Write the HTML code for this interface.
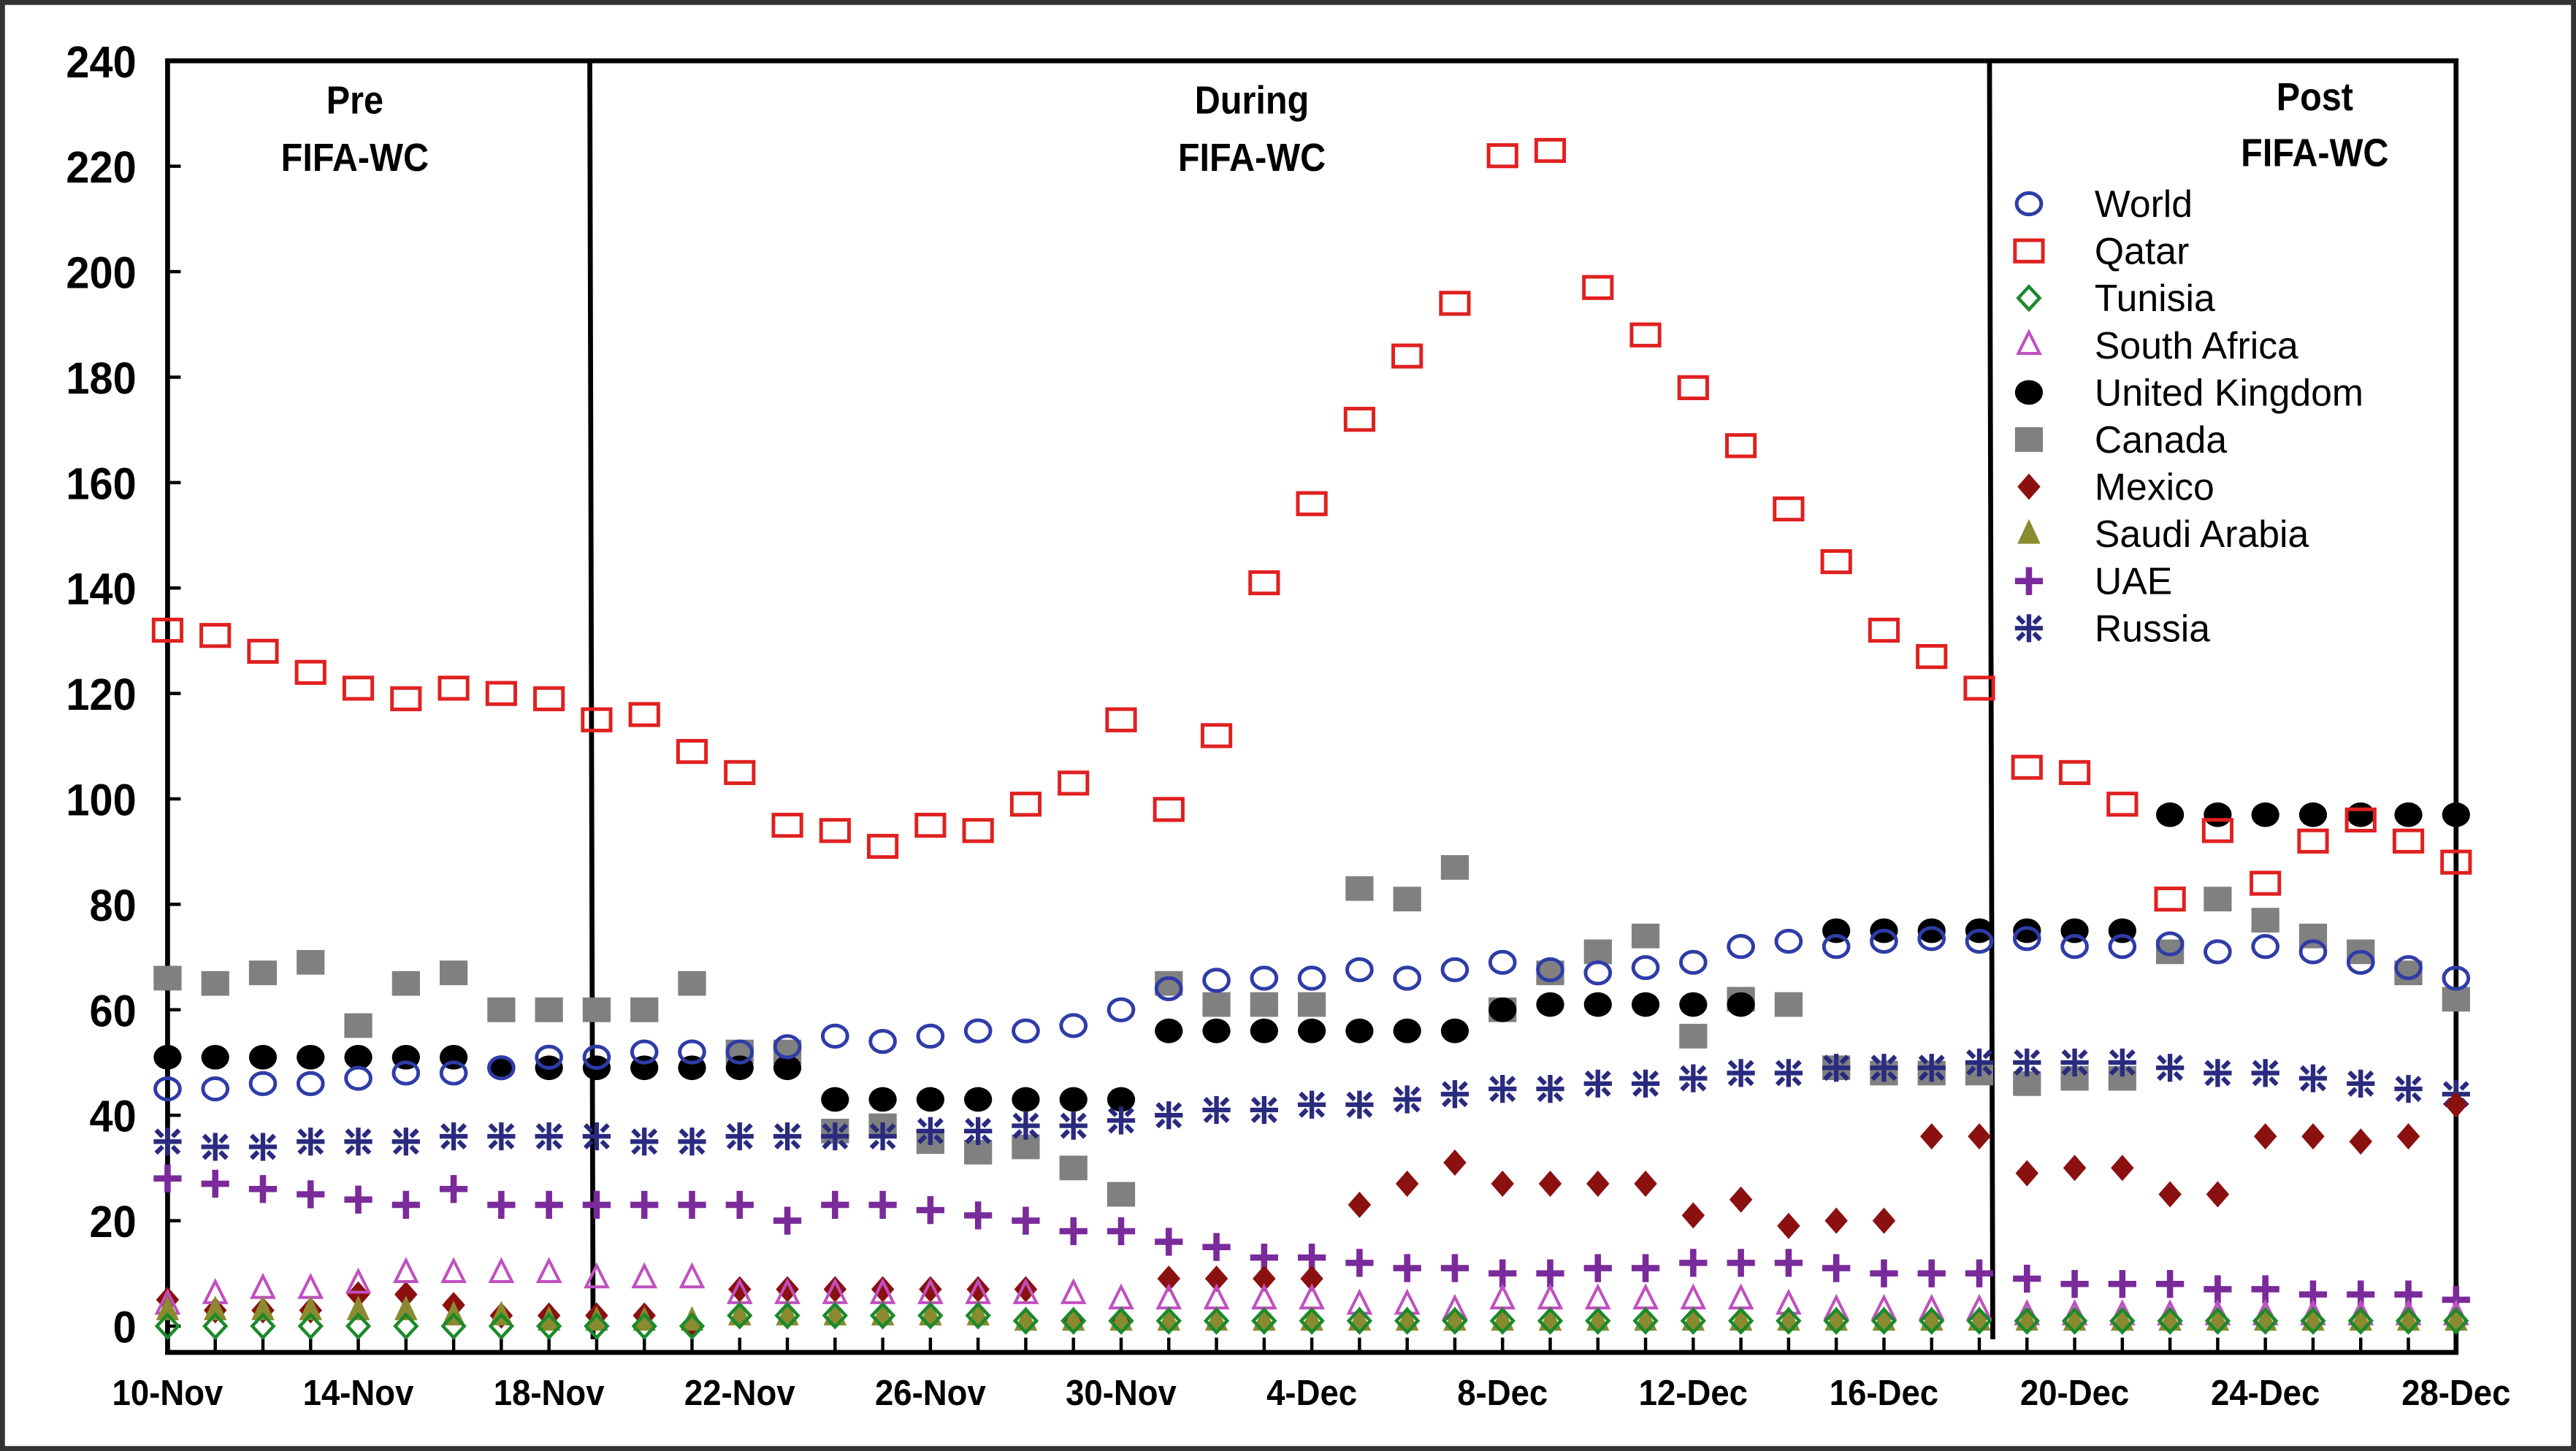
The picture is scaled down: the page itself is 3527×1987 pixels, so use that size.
<!DOCTYPE html>
<html><head><meta charset="utf-8"><style>
html,body{margin:0;padding:0;background:#fff;}
svg{display:block;}
text{font-family:"Liberation Sans",sans-serif;}
</style></head><body>
<svg id="chart" width="3527" height="1987" viewBox="0 0 1568 883" preserveAspectRatio="none" xmlns="http://www.w3.org/2000/svg">
<rect x="1.5" y="1.5" width="1565" height="880" fill="#fff" stroke="#333" stroke-width="3"/>
<g id="marks"></g>
</svg>
<script>
const dayLabels=["10-Nov","14-Nov","18-Nov","22-Nov","26-Nov","30-Nov","4-Dec","8-Dec","12-Dec","16-Dec","20-Dec","24-Dec","28-Dec"];
const yTicks=[0,20,40,60,80,100,120,140,160,180,200,220,240];
const world=[45,45,46,46,47,48,48,49,51,51,52,52,52,53,55,54,55,56,56,57,60,64,65.6,66,66,67.6,66,67.6,69,67.6,67,68,69,72,73,72,73,73.5,73,73.5,72,72,72.5,71,72,71,69,68,66];
const qatar=[132,131,128,124,121,119,121,120,119,115,116,109,105,95,94,91,95,94,99,103,115,98,112,141,156,172,184,194,222,223,197,188,178,167,155,145,132,127,121,106,105,99,81,94,84,92,96,92,88];
const tunisia=[0,0,0,0,0,0,0,0,0,0,0,0,2,2,2,2,2,2,1,1,1,1,1,1,1,1,1,1,1,1,1,1,1,1,1,1,1,1,1,1,1,1,1,1,1,1,1,1,1];
const southAfrica=[4,6,7,7,8,10,10,10,10,9,9,9,6,6,6,6,6,6,6,6,5,5,5,5,5,4,4,3,5,5,5,5,5,5,4,3,3,3,3,2,2,2,2,2,2,2,2,2,2];
const uk=[51,51,51,51,51,51,51,49,49,49,49,49,49,49,43,43,43,43,43,43,43,56,56,56,56,56,56,56,60,61,61,61,61,61,null,75,75,75,75,75,75,75,97,97,97,97,97,97,97];
const canada=[66,65,67,69,57,65,67,60,60,60,60,65,52,52,37,38,35,33,34,30,25,65,61,61,61,83,81,87,60,67,71,74,55,62,61,49,48,48,48,46,47,47,71,81,77,74,71,67,62];
const mexico=[5,3,3,3,6,6,4,2,2,2,2,0,7,7,7,7,7,7,7,1,1,9,9,9,9,23,27,31,27,27,27,27,21,24,19,20,20,36,36,29,30,30,25,25,36,36,35,36,42];
const saudi=[3,3,3,3,3,3,2,2,1,1,1,1,2,2,2,2,2,2,1,1,1,1,1,1,1,1,1,1,1,1,1,1,1,1,1,1,1,1,1,1,1,1,1,1,1,1,1,1,1];
const uae=[28,27,26,25,24,23,26,23,23,23,23,23,23,20,23,23,22,21,20,18,18,16,15,13,13,12,11,11,10,10,11,11,12,12,12,11,10,10,10,9,8,8,8,7,7,6,6,6,5];
const russia=[35,34,34,35,35,35,36,36,36,36,35,35,36,36,36,36,37,37,38,38,39,40,41,41,42,42,43,44,45,45,46,46,47,48,48,49,49,49,50,50,50,50,49,48,48,47,46,45,44];
const seriesNames=["World","Qatar","Tunisia","South Africa","United Kingdom","Canada","Mexico","Saudi Arabia","UAE","Russia"];

const NS="http://www.w3.org/2000/svg";
const L=102,R=1495,T=37,Y0=807;
const xs=i=>L+(R-L)*i/48;
const ys=v=>Y0-(Y0-T)*v/240;
const svg=document.getElementById('chart');
const g=document.getElementById('marks');
function el(tag,attrs,parent){const e=document.createElementNS(NS,tag);for(const k in attrs)e.setAttribute(k,attrs[k]);(parent||g).appendChild(e);return e;}

let ax=el('path',{d:`M${L},${T} H${R} V823 H${L} Z`,fill:'none',stroke:'#000','stroke-width':3});


yTicks.forEach(v=>{
  let t=el('line',{x1:L,x2:L+8,y1:ys(v),y2:ys(v),stroke:'#000','stroke-width':2});
  
  
  let tx=el('text',{x:83,y:ys(v)+10,'text-anchor':'end','font-size':27,'font-weight':'bold',transform:`translate(83,0) scale(0.95,1) translate(-83,0)`});
  tx.textContent=v;
  
  
});
for(let i=0;i<49;i++){
  let t=el('line',{x1:xs(i),x2:xs(i),y1:823,y2:814,stroke:'#000','stroke-width':2});
  
  
}
dayLabels.forEach((d,k)=>{
  const x=xs(k*4);
  let tx=el('text',{x:x,y:855,'text-anchor':'middle','font-size':22,'font-weight':'bold',transform:`translate(${x},0) scale(0.92,1) translate(${-x},0)`});
  tx.textContent=d;
  
  
});
[[359,'pre-during-divider'],[1211,'during-post-divider']].forEach(([x,n])=>{
  let l=el('line',{x1:x,x2:x+2,y1:T,y2:815,stroke:'#000','stroke-width':3});
  
  
});
[['Pre',216,69],['FIFA-WC',216,104],['During',762,69],['FIFA-WC',762,104],['Post',1409,67],['FIFA-WC',1409,101]].forEach(([s,x,y])=>{
  let tx=el('text',{x:x,y:y,'text-anchor':'middle','font-size':24,'font-weight':'bold',transform:`translate(${x},0) scale(0.9,1) translate(${-x},0)`});
  tx.textContent=s;
  
  
});

function marker(type,x,y,parent){
  const p=parent||g;
  switch(type){
    case 'World': return el('ellipse',{cx:x,cy:y,rx:7.5,ry:6.5,fill:'none',stroke:'#2e3ca8','stroke-width':2.2},p);
    case 'Qatar': return el('rect',{x:x-8.5,y:y-6.5,width:17,height:13,fill:'none',stroke:'#e02020','stroke-width':2.2},p);
    case 'Tunisia': return el('path',{d:`M${x},${y-7}L${x+6.5},${y}L${x},${y+7}L${x-6.5},${y}Z`,fill:'none',stroke:'#1a8a2a','stroke-width':2},p);
    case 'South Africa': return el('path',{d:`M${x},${y-8}L${x+6.5},${y+5}L${x-6.5},${y+5}Z`,fill:'none',stroke:'#c050c0','stroke-width':1.8},p);
    case 'United Kingdom': return el('ellipse',{cx:x,cy:y,rx:8.5,ry:7.5,fill:'#000'},p);
    case 'Canada': return el('rect',{x:x-8.5,y:y-7.5,width:17,height:15,fill:'#808080'},p);
    case 'Mexico': return el('path',{d:`M${x},${y-8}L${x+7},${y}L${x},${y+8}L${x-7},${y}Z`,fill:'#8b1010'},p);
    case 'Saudi Arabia': return el('path',{d:`M${x},${y-9}L${x+7},${y+6}L${x-7},${y+6}Z`,fill:'#8a8a30'},p);
    case 'UAE': return el('path',{d:`M${x-8.5},${y}H${x+8.5}M${x},${y-8.5}V${y+8.5}`,stroke:'#7a2a9a','stroke-width':3.8,fill:'none'},p);
    case 'Russia': return el('path',{d:`M${x-8.5},${y}H${x+8.5}M${x},${y-8.5}V${y+8.5}M${x-7},${y-7}L${x-3},${y-3}M${x+7},${y-7}L${x+3},${y-3}M${x-7},${y+7}L${x-3},${y+3}M${x+7},${y+7}L${x+3},${y+3}`,stroke:'#2a2a80','stroke-width':2.8,fill:'none'},p);
  }
}
const dataSets=[world,qatar,tunisia,southAfrica,uk,canada,mexico,saudi,uae,russia];
const drawOrder=[5,4,0,9,8,6,3,7,2,1];
drawOrder.forEach(si=>{
  const name=seriesNames[si];
  const grp=el('g',{});
  
  
  dataSets[si].forEach((v,i)=>{
    if(v===null)return;
    const m=marker(name,xs(i),ys(v),grp);
    
    
  });
});
const lg=el('g',{});


seriesNames.forEach((n,k)=>{
  const y=124+k*28.7;
  const m=marker(n,1235,y,lg);
  
  
  const tx=el('text',{x:1275,y:y+8,'font-size':23},lg);
  tx.textContent=n;
  
  
});
</script>
</body></html>
